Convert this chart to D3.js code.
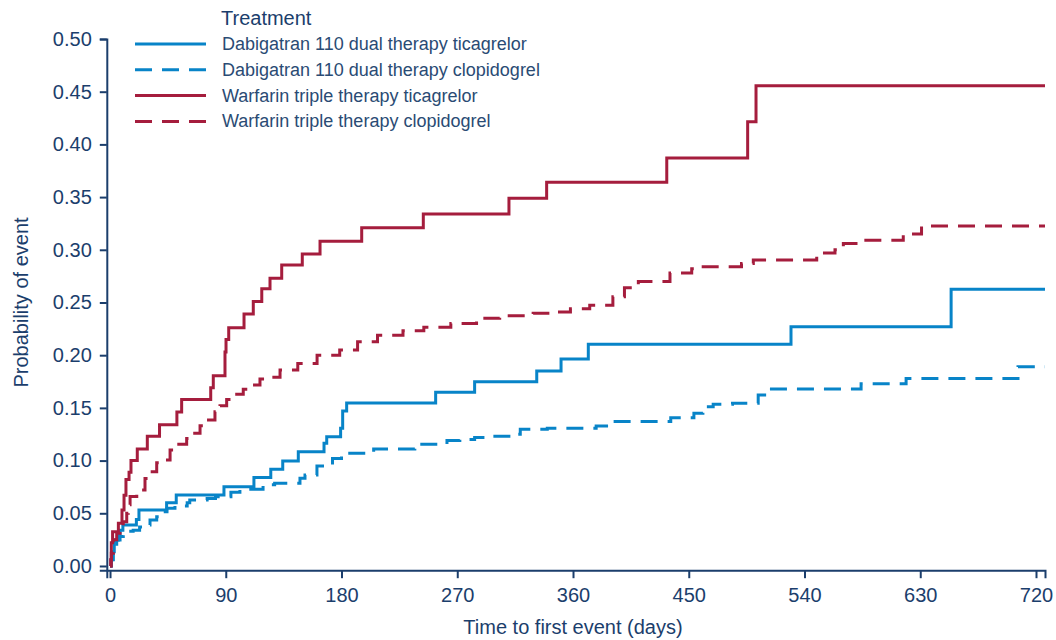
<!DOCTYPE html>
<html>
<head>
<meta charset="utf-8">
<script src="https://cdn.jsdelivr.net/npm/d3@7"></script>
<style>
  body { margin: 0; background: #fff; }
  text { font-family: "Liberation Sans", Arial, sans-serif; }
</style>
</head>
<body>
<div id="chart"></div>
<script>
// step points: [day, probability of event]
const dabiTica = [
  [0, 0], [1, 0.006], [1.5, 0.0136], [3.3, 0.0247], [6.5, 0.03], [7.8, 0.034], [10, 0.039],
  [20.5, 0.044], [22.5, 0.053], [44, 0.06], [51.5, 0.0674], [88.6, 0.0752], [111.9, 0.084],
  [125, 0.0917], [134.3, 0.0996], [146.4, 0.1085], [166.4, 0.1164], [168.5, 0.1227],
  [179.3, 0.1306], [180.9, 0.147], [184, 0.1546], [253.2, 0.1648], [283.5, 0.1749],
  [331.8, 0.185], [350.7, 0.1964], [371.9, 0.2103], [529.5, 0.227], [654, 0.2625]
];
const dabiClop = [
  [0, 0], [1, 0.006], [2.6, 0.012], [3.9, 0.018], [5.2, 0.0247], [7.8, 0.028], [10.3, 0.031],
  [13, 0.033], [18, 0.034], [23, 0.037], [25.7, 0.039], [31.1, 0.0436], [36.3, 0.0468],
  [41, 0.0515], [44.3, 0.0547], [50.5, 0.057], [60, 0.06], [62, 0.0626], [75.5, 0.064],
  [82, 0.0658], [94, 0.07], [101, 0.0728], [119, 0.077], [128, 0.0785], [147.7, 0.0832],
  [151.6, 0.0863], [160.9, 0.0949], [173, 0.102], [180, 0.107], [205, 0.111], [237, 0.1155],
  [262, 0.119], [272, 0.12], [283.5, 0.122], [295, 0.123], [314, 0.125], [319, 0.1297],
  [340, 0.1306], [378, 0.1328], [389, 0.137], [436, 0.1407], [454, 0.145], [461, 0.151],
  [469, 0.1534], [484, 0.1544], [504, 0.1622], [509, 0.168], [584, 0.173], [619, 0.178],
  [706, 0.189]
];
const warfTica = [
  [0, 0], [1, 0.022], [2, 0.0325], [6.5, 0.0405], [9.3, 0.053], [10.9, 0.067], [12.4, 0.082],
  [14.8, 0.089], [16.3, 0.1], [21.2, 0.111], [29, 0.123], [38.5, 0.134], [52, 0.146],
  [55.7, 0.158], [78.3, 0.169], [80.3, 0.1805], [89.4, 0.203], [90.2, 0.215], [92.3, 0.226],
  [104.2, 0.239], [111.4, 0.251], [118, 0.263], [124.4, 0.273], [133.5, 0.2856], [149.5, 0.296],
  [163.3, 0.308], [195.7, 0.321], [243.6, 0.334], [310.2, 0.349], [339.5, 0.364],
  [432.9, 0.387], [495.8, 0.4215], [502.3, 0.4557]
];
const warfClop = [
  [0, 0], [0.5, 0.006], [1, 0.012], [2.6, 0.025], [5.2, 0.031], [7.8, 0.037], [10.3, 0.042],
  [13, 0.05], [14.2, 0.058], [15.6, 0.066], [20.8, 0.072], [27.2, 0.083], [31.1, 0.0895],
  [36.3, 0.098], [40.2, 0.1006], [46.7, 0.11], [50.5, 0.1155], [59.6, 0.121], [63.5, 0.126],
  [70, 0.133], [73.9, 0.1385], [81.6, 0.1464], [85.5, 0.152], [90.7, 0.158], [97.2, 0.163],
  [103.6, 0.1677], [110.2, 0.1717], [116.6, 0.1774], [125.7, 0.179], [132.2, 0.186],
  [146, 0.192], [161, 0.2], [178.6, 0.205], [192.5, 0.2128], [208, 0.219], [227.8, 0.2232],
  [244, 0.2264], [265, 0.23], [285, 0.235], [303, 0.236], [308, 0.2375], [329, 0.2397],
  [344, 0.241], [358, 0.244], [373, 0.2475], [391, 0.2555], [400, 0.264], [410.8, 0.27],
  [435.4, 0.278], [452.3, 0.282], [460, 0.284], [491, 0.287], [500.2, 0.2903], [549.5, 0.295],
  [553.4, 0.297], [563.7, 0.3], [570.2, 0.306], [581.6, 0.3077], [583, 0.309], [616.8, 0.315],
  [631, 0.3226]
];

const seriesNames = [
  "Dabigatran 110 dual therapy ticagrelor",
  "Dabigatran 110 dual therapy clopidogrel",
  "Warfarin triple therapy ticagrelor",
  "Warfarin triple therapy clopidogrel"
];
const xTicks = [0, 90, 180, 270, 360, 450, 540, 630, 720];
const yTicks = [0, 0.05, 0.10, 0.15, 0.20, 0.25, 0.30, 0.35, 0.40, 0.45, 0.50];

const w = 1056, h = 640;
const navy = "#1b3e6c";
const blue = "#0884c8";
const red = "#a51d3d";
const lastDay = 727;

const series = [
  { name: seriesNames[0], data: dabiTica, color: blue, dash: null },
  { name: seriesNames[1], data: dabiClop, color: blue, dash: "17,10" },
  { name: seriesNames[2], data: warfTica, color: red, dash: null },
  { name: seriesNames[3], data: warfClop, color: red, dash: "17,10" }
];

const svg = d3.select("#chart").append("svg")
  .attr("width", w).attr("height", h);

const x = d3.scaleLinear().domain([-2.5, lastDay]).range([106.8, 1045]);
const y = d3.scaleLinear().domain([-0.004, 0.5]).range([570.2, 39]);

// axes
const xAxis = svg.append("g")
  .attr("transform", "translate(0," + y(-0.004) + ")")
  .call(d3.axisBottom(x).tickValues(xTicks).tickSizeOuter(0).tickSize(8).tickPadding(10));
const yAxis = svg.append("g")
  .attr("transform", "translate(" + x(-2.5) + ",0)")
  .call(d3.axisLeft(y).tickValues(yTicks).tickFormat(d3.format(".2f")).tickSizeOuter(0).tickSize(7).tickPadding(8));

[xAxis, yAxis].forEach(g => {
  g.select(".domain").attr("stroke", navy).attr("stroke-width", 2);
  g.selectAll(".tick line").attr("stroke", navy).attr("stroke-width", 2);
  g.selectAll(".tick text").attr("fill", navy).style("font-size", "20px")
    .style("font-family", "'Liberation Sans', Arial, sans-serif");
});

svg.append("text")
  .attr("x", (x(0) + x(720)) / 2).attr("y", 634)
  .attr("text-anchor", "middle").attr("fill", navy).style("font-size", "20px")
  .text("Time to first event (days)");
svg.append("text")
  .attr("transform", "translate(28," + y(0.25) + ") rotate(-90)")
  .attr("text-anchor", "middle").attr("fill", navy).style("font-size", "20px")
  .text("Probability of event");

// curves
const line = d3.line()
  .x(d => x(d[0]))
  .y(d => y(d[1]))
  .curve(d3.curveStepAfter);

series.forEach(s => {
  const pts = s.data.concat([[lastDay, s.data[s.data.length - 1][1]]]);
  svg.append("path")
    .datum(pts)
    .attr("fill", "none")
    .attr("stroke", s.color)
    .attr("stroke-width", 3)
    .attr("stroke-dasharray", s.dash)
    .attr("d", line);
});

// legend
const legend = svg.append("g");
legend.append("text")
  .attr("x", 221).attr("y", 25)
  .attr("fill", navy).style("font-size", "20px")
  .text("Treatment");
series.forEach((s, i) => {
  const ly = 44 + i * 25.8;
  legend.append("line")
    .attr("x1", 135).attr("x2", 206)
    .attr("y1", ly).attr("y2", ly)
    .attr("stroke", s.color).attr("stroke-width", 3)
    .attr("stroke-dasharray", s.dash);
  legend.append("text")
    .attr("x", 222).attr("y", ly + 6)
    .attr("fill", "#2a4b74").style("font-size", "18px")
    .text(s.name);
});
</script>
</body>
</html>
